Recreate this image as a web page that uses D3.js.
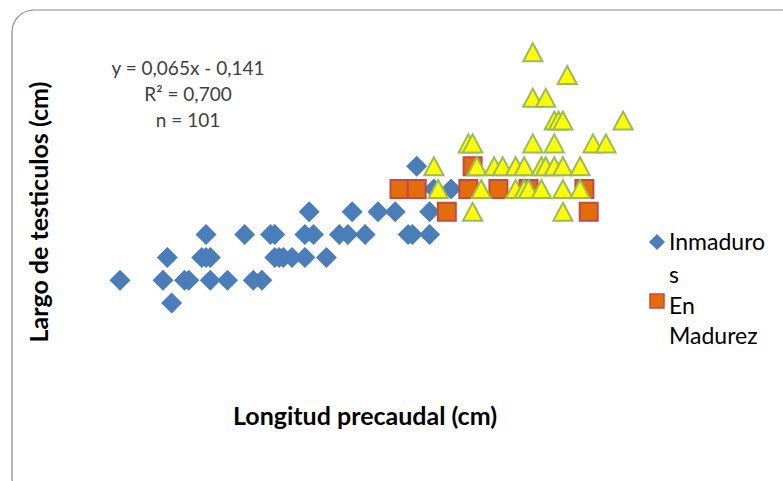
<!DOCTYPE html>
<html>
<head>
<meta charset="utf-8">
<script src="https://cdn.jsdelivr.net/npm/d3@7"></script>
<style>
  html, body { margin: 0; padding: 0; background: #fff; }
  svg { display: block; }
</style>
</head>
<body>
<svg id="chart" width="783" height="481"></svg>
<script>
// Longitud precaudal (cm) and largo de testículos (cm) per maturity stage
const inmadurosX = [31,
  25, 30, 32.5, 33, 35.5, 37.5, 40.5, 41.5,
  30.5, 34.5, 35, 35.5, 43, 43.5, 44, 45, 46.5, 49,
  35, 39.5, 42.5, 43, 46.5, 47.5, 50.5, 51.5, 53.5, 58.5, 59, 61,
  47, 52, 55, 57, 61,
  61.5, 63.5,
  59.5];
const inmadurosY = [1.5,
  2, 2, 2, 2, 2, 2, 2, 2,
  2.5, 2.5, 2.5, 2.5, 2.5, 2.5, 2.5, 2.5, 2.5, 2.5,
  3, 3, 3, 3, 3, 3, 3, 3, 3, 3, 3, 3,
  3.5, 3.5, 3.5, 3.5, 3.5,
  4, 4,
  4.5];

const madurezX = [57.5, 59.5, 65.5, 69, 72.5, 79, 66, 63, 79.5];
const madurezY = [4, 4, 4, 4, 4, 4, 4.5, 3.5, 3.5];

const maduroX = [66, 76.5,
  62, 67, 71, 72, 72.5, 74, 76.5, 78.5,
  61.5, 66.5, 68.5, 69.5, 71, 72, 74, 74.5, 75.5, 76.5, 78.5,
  65.5, 66, 73, 75.5, 80, 81.5,
  75.5, 76, 76.5, 83.5,
  73, 74.5,
  77,
  73];
const maduroY = [3.5, 3.5,
  4, 4, 4, 4, 4, 4, 4, 4,
  4.5, 4.5, 4.5, 4.5, 4.5, 4.5, 4.5, 4.5, 4.5, 4.5, 4.5,
  5, 5, 5, 5, 5, 5,
  5.5, 5.5, 5.5, 5.5,
  6, 6,
  6.5,
  7];

const trendLines = ["y = 0,065x - 0,141", "R² = 0,700", "n = 101"];
const legendLabels = [["Inmaduro", "s"], ["En", "Madurez"]];
const xTitle = "Longitud precaudal (cm)";
const yTitle = "Largo de testiculos (cm)";

const svg = d3.select("#chart");

// chart frame
svg.append("rect")
  .attr("x", 12).attr("y", 10)
  .attr("width", 800).attr("height", 490)
  .attr("rx", 22).attr("ry", 22)
  .attr("fill", "#fff")
  .attr("stroke", "#868686")
  .attr("stroke-width", 1.2);

const x = d3.scaleLinear().domain([25, 83]).range([120, 618.8]);
const y = d3.scaleLinear().domain([1.5, 7]).range([303, 52.2]);

const zip = (xs, ys) => xs.map((v, i) => ({ x: v, y: ys[i] }));

const diamondPath = "M0,-10.5L10.5,0L0,10.5L-10.5,0Z";
const squarePath = "M-9,-9H9V9H-9Z";
const trianglePath = "M0,-9L9.6,9H-9.6Z";

const plot = svg.append("g");

plot.append("g").selectAll("path")
  .data(zip(inmadurosX, inmadurosY))
  .join("path")
  .attr("d", diamondPath)
  .attr("transform", d => `translate(${x(d.x)},${y(d.y)})`)
  .attr("fill", "#4A7EBB");

plot.append("g").selectAll("path")
  .data(zip(madurezX, madurezY))
  .join("path")
  .attr("d", squarePath)
  .attr("transform", d => `translate(${x(d.x)},${y(d.y)})`)
  .attr("fill", "#E46C0A")
  .attr("stroke", "#BE4B48")
  .attr("stroke-width", 2);

plot.append("g").selectAll("path")
  .data(zip(maduroX, maduroY))
  .join("path")
  .attr("d", trianglePath)
  .attr("transform", d => `translate(${x(d.x)},${y(d.y)})`)
  .attr("fill", "#FFFF00")
  .attr("stroke", "#9BBB59")
  .attr("stroke-width", 2)
  .attr("stroke-linejoin", "miter");

// trend line label
svg.append("g").selectAll("text")
  .data(trendLines)
  .join("text")
  .attr("x", 188)
  .attr("y", (d, i) => 75 + i * 26)
  .attr("text-anchor", "middle")
  .attr("font-family", "Lato, 'Open Sans', sans-serif")
  .attr("font-size", 19)
  .attr("fill", "#404040")
  .text(d => d);

// axis titles
svg.append("text")
  .attr("x", 365).attr("y", 425)
  .attr("text-anchor", "middle")
  .attr("font-family", "Lato, sans-serif")
  .attr("font-weight", "bold")
  .attr("font-size", 25)
  .attr("fill", "#000")
  .text(xTitle);

svg.append("text")
  .attr("transform", "translate(48,212) rotate(-90)")
  .attr("text-anchor", "middle")
  .attr("font-family", "Lato, sans-serif")
  .attr("font-weight", "bold")
  .attr("font-size", 25)
  .attr("fill", "#000")
  .text(yTitle);

// legend
const legend = svg.append("g");
legend.append("path")
  .attr("d", "M0,-8L8,0L0,8L-8,0Z")
  .attr("transform", "translate(657,242)")
  .attr("fill", "#4A7EBB");
legend.append("rect")
  .attr("x", 650).attr("y", 294).attr("width", 14).attr("height", 14)
  .attr("fill", "#E46C0A")
  .attr("stroke", "#BE4B48")
  .attr("stroke-width", 1.5);

const legendBaselines = [[250, 283], [314, 344]];
legendLabels.forEach((lines, i) => {
  lines.forEach((t, j) => {
    legend.append("text")
      .attr("x", 669)
      .attr("y", legendBaselines[i][j])
      .attr("font-family", "Lato, sans-serif")
      .attr("font-size", 23)
      .attr("fill", "#000")
      .text(t);
  });
});
</script>
</body>
</html>
